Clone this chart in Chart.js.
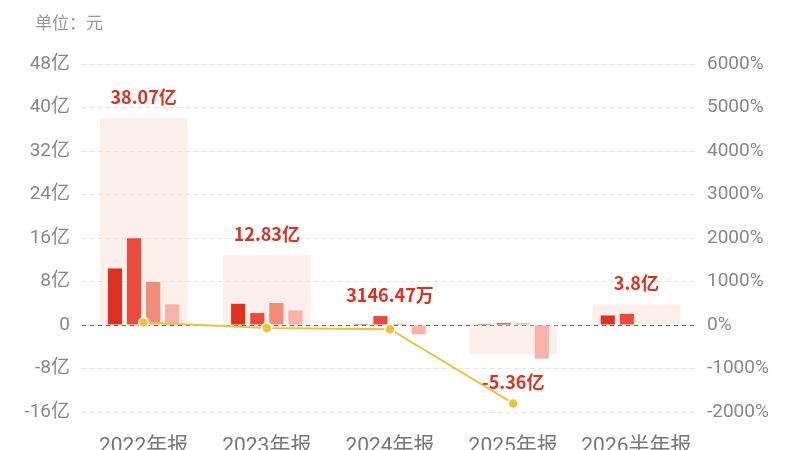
<!DOCTYPE html>
<html>
<head>
<meta charset="utf-8">
<script src="https://cdn.jsdelivr.net/npm/chart.js@4"></script>
<style>
  html, body { margin: 0; padding: 0; background: #fff; overflow: hidden; width: 800px; height: 450px; }
  canvas { display: block; }
</style>
</head>
<body>
<canvas id="chart" width="800" height="470" style="width:800px;height:470px"></canvas>
<script>
// categories and values (亿元)
const categories = ['2022年报', '2023年报', '2024年报', '2025年报', '2026半年报'];
const q1 = [10.4, 3.9, 0.18, 0.2, 1.75];
const q2 = [15.95, 2.2, 1.65, 0.35, 2.05];
const q3 = [7.92, 4.05, 0.2, 0.29, null];
const q4 = [3.8, 2.68, -1.72, -6.2, null];
const totals = [38.07, 12.83, 0.314647, -5.36, 3.8];
const totalLabels = ['38.07亿', '12.83亿', '3146.47万', '-5.36亿', '3.8亿'];
// year-on-year growth (%)
const growth = [55, -66.3, -97.5, -1803, null];

const numFont = 'Roboto, "Noto Sans CJK SC", sans-serif';
const boldFont = '"Noto Sans CJK SC", sans-serif';

// draws the total above (or below) each group and the unit note
const labelPlugin = {
    id: 'totals',
    afterDatasetsDraw(chart) {
        const ctx = chart.ctx;
        const boxMeta = chart.getDatasetMeta(4);
        ctx.save();
        ctx.font = 'bold 18px ' + boldFont;
        ctx.fillStyle = '#e0301e';
        ctx.textAlign = 'center';
        ctx.textBaseline = 'middle';
        totals.forEach((t, i) => {
            const box = boxMeta.data[i];
            let ys = [box.y];
            for (let d = 0; d < 4; d++) {
                const el = chart.getDatasetMeta(d).data[i];
                if (el && chart.data.datasets[d].data[i] != null) ys.push(el.y);
            }
            if (t >= 0) {
                ctx.fillText(totalLabels[i], box.x, Math.min(...ys) - 21);
            } else {
                ctx.fillText(totalLabels[i], box.x, Math.max(...ys) + 23);
            }
        });
        ctx.font = '17px ' + boldFont;
        ctx.fillStyle = '#999';
        ctx.textAlign = 'left';
        ctx.fillText('单位：元', 35, 23);
        ctx.restore();
    }
};

const barCommon = {
    type: 'bar',
    xAxisID: 'x',
    yAxisID: 'y',
    barPercentage: 0.74,
    categoryPercentage: 0.62,
    order: 1
};

new Chart(document.getElementById('chart'), {
    data: {
        labels: categories,
        datasets: [
            Object.assign({ label: 'Q1', data: q1, backgroundColor: '#de3120' }, barCommon),
            Object.assign({ label: 'Q2', data: q2, backgroundColor: '#ee4a3b' }, barCommon),
            Object.assign({ label: 'Q3', data: q3, backgroundColor: '#f28b79' }, barCommon),
            Object.assign({ label: 'Q4', data: q4, backgroundColor: '#f8b2a7' }, barCommon),
            {
                type: 'bar',
                label: '合计',
                data: totals,
                xAxisID: 'x',
                yAxisID: 'y',
                grouped: false,
                backgroundColor: 'rgba(252, 226, 221, 0.55)',
                barPercentage: 1,
                categoryPercentage: 0.71,
                order: 2
            },
            {
                type: 'line',
                label: '同比',
                data: growth,
                xAxisID: 'x',
                yAxisID: 'y1',
                borderColor: '#f0c23c',
                borderWidth: 2,
                pointRadius: 5,
                pointBackgroundColor: '#f0c23c',
                pointBorderColor: '#fff',
                pointBorderWidth: 1.5,
                tension: 0,
                order: 0
            }
        ]
    },
    options: {
        responsive: false,
        animation: false,
        devicePixelRatio: 1,
        layout: { padding: { top: 64, bottom: 12, left: 0, right: 0 } },
        plugins: {
            legend: { display: false },
            tooltip: { enabled: false }
        },
        scales: {
            x: {
                type: 'category',
                offset: true,
                afterFit(scale) { scale.height = 46; },
                grid: { display: false, drawTicks: false },
                border: { display: false },
                ticks: { color: '#777', padding: 22, maxRotation: 0, font: { family: numFont, size: 21 } }
            },
            y: {
                position: 'left',
                min: -16,
                max: 48,
                afterFit(scale) { scale.width = 82; },
                grid: {
                    color: ctx => ctx.tick && ctx.tick.value === 0 ? '#666' : '#e3e3e3',
                    drawTicks: false
                },
                border: { display: false, dash: [4, 4] },
                ticks: {
                    stepSize: 8,
                    padding: 12,
                    color: '#888',
                    font: { family: numFont, size: 19 },
                    callback: v => v === 0 ? '0' : v + '亿'
                }
            },
            y1: {
                position: 'right',
                min: -2000,
                max: 6000,
                afterFit(scale) { scale.width = 102; },
                grid: { display: false, drawTicks: false },
                border: { display: false },
                ticks: {
                    stepSize: 1000,
                    padding: 9,
                    color: '#888',
                    font: { family: numFont, size: 19 },
                    callback: v => v + '%'
                }
            }
        }
    },
    plugins: [labelPlugin]
});
</script>
</body>
</html>
